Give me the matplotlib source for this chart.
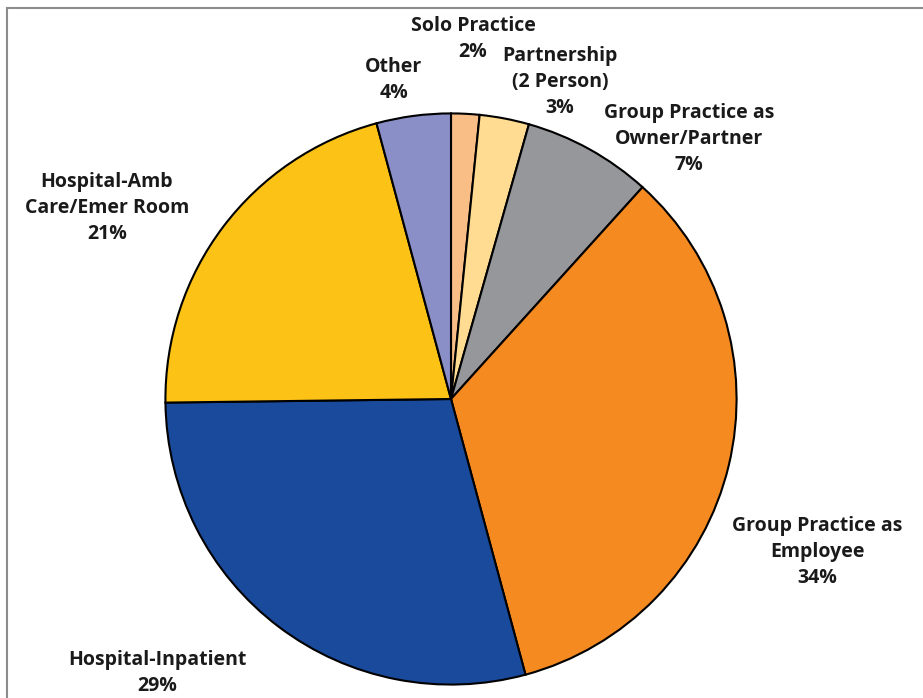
import matplotlib
matplotlib.use("Agg")
import matplotlib.pyplot as plt
from matplotlib.patches import Rectangle

categories = ["Solo Practice", "Partnership\n(2 Person)", "Group Practice as\nOwner/Partner",
              "Group Practice as\nEmployee", "Hospital-Inpatient", "Hospital-Amb\nCare/Emer Room", "Other"]
values = [1.6, 2.8, 7.3, 34.1, 29.0, 21.0, 4.2]
colors = ["#F9BE86", "#FFDC91", "#96979B", "#F58A21", "#1A4A9C", "#FCC216", "#8A8FC8"]

W, H = 923, 698
fig = plt.figure(figsize=(W / 100, H / 100), dpi=100)
plt.rcParams['font.family'] = ['Open Sans', 'DejaVu Sans']

cx, cy, r = 451, 399, 287
ax = fig.add_axes([(cx - r) / W, (H - cy - r) / H, 2 * r / W, 2 * r / H])
ax.pie(values, colors=colors, startangle=90, counterclock=False, radius=1,
       wedgeprops=dict(edgecolor="black", linewidth=1.5))
ax.set_xlim(-1.005, 1.005)
ax.set_ylim(-1.005, 1.005)
ax.axis("off")

# label centres in pixels (x, y from top)
label_pos = [(473, 39), (560, 82), (689, 139), (817, 552), (157, 673), (107, 208), (394, 80)]
total = sum(values)
for cat, v, (px, py) in zip(categories, values, label_pos):
    txt = f"{cat}\n{round(v / total * 100):.0f}%"
    fig.text(px / W, 1 - py / H, txt, ha="center", va="center", multialignment="center",
             fontsize=14, fontweight="bold", color="#1a1a1a", linespacing=1.4)

fig.patches.append(Rectangle((7.5 / W, -0.5), 2, 1.5 - 7.5 / H, transform=fig.transFigure,
                             fill=False, edgecolor="#8c8c8c", linewidth=1.5))

fig.savefig("out.png", dpi=100)
